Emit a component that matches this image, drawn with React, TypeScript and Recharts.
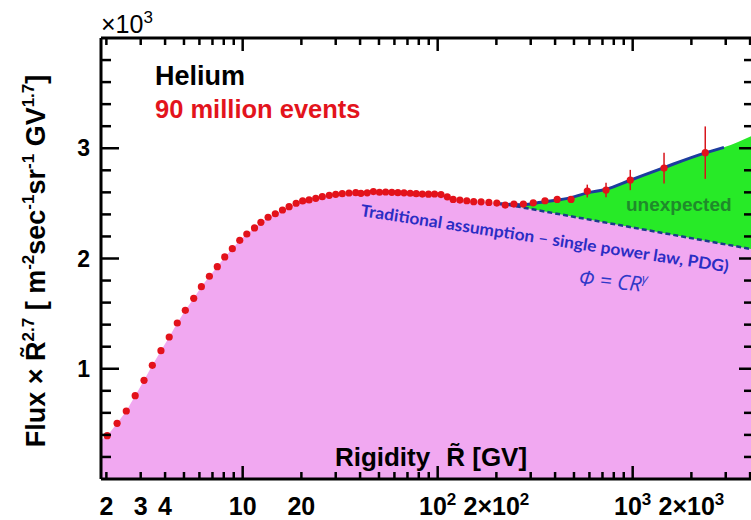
import React from 'react';
import { ComposedChart, XAxis, YAxis, Area, Line, Scatter, ErrorBar } from 'recharts';

// AMS helium flux x R^2.7
const rigidity = [
  2.02, 2.27, 2.53, 2.81, 3.12, 3.44, 3.81, 4.2, 4.62, 5.08, 5.61, 6.14, 6.75, 7.41, 8.09, 8.85, 9.66,
  10.5, 11.5, 12.4, 13.5, 14.7, 16.0, 17.3, 18.8, 20.3, 21.9, 23.7, 25.6, 27.8, 30.0, 32.4, 35.1, 38.0,
  40.4, 43.5, 46.8, 50.3, 54.1, 58.2, 62.5, 67.2, 72.3, 77.6, 83.4, 89.7, 96.4,
  104, 112, 120, 130, 141, 153, 167, 183, 201, 222, 246, 275, 309, 355, 410, 483, 585, 730, 972, 1448, 2356,
];
const fluxR27 = [
  393, 505, 617, 756, 895, 1031, 1164, 1288, 1415, 1530, 1639, 1744, 1839, 1926, 2014, 2089, 2165,
  2222, 2277, 2328, 2374, 2406, 2440, 2470, 2501, 2522, 2531, 2546, 2561, 2573, 2582, 2588, 2594, 2597,
  2591, 2596, 2607, 2601, 2603, 2600, 2597, 2596, 2592, 2588, 2584, 2583, 2585,
  2580, 2559, 2536, 2530, 2524, 2515, 2514, 2509, 2503, 2485, 2494, 2494, 2505, 2524, 2536, 2536, 2612, 2621, 2712, 2820, 2960,
];
const fluxErr = [
  0, 0, 0, 0, 0, 0, 0, 0, 0, 0, 0, 0, 0, 0, 0, 0, 0,
  0, 0, 0, 0, 0, 0, 0, 0, 0, 0, 0, 0, 0, 0, 0, 0, 0,
  0, 0, 0, 0, 0, 0, 0, 0, 0, 0, 0, 0, 0,
  0, 0, 0, 0, 0, 0, 0, 0, 0, 0, 10, 12, 15, 18, 22, 28, 58, 65, 92, 140, 238,
];

// fitted curve (blue) and single power law (dashed)
const fitRigidity = [209, 264, 340, 410, 483, 585, 730, 972, 1448, 2356, 2938];
const fitFlux = [2495, 2488, 2510, 2530, 2552, 2595, 2628, 2710, 2825, 2958, 3008];
const powerLawRigidity = [209, 4045];
const powerLawFlux = [2500, 2086];

// edges of the coloured regions at the frame
const rigidityMin = 1.877;
const rigidityMax = 4140;
const pinkStartFlux = 354;
const greenEndFlux = 3110;

const xTicks = [2, 3, 4, 5, 6, 7, 8, 9, 10, 20, 30, 40, 50, 60, 70, 80, 90, 100, 200, 300, 400, 500, 600, 700, 800, 900, 1000, 2000, 3000, 4000];
const xMajor = [10, 100, 1000];
const xLabels: Record<number, [string, string]> = {
  2: ['2', ''], 3: ['3', ''], 4: ['4', ''], 10: ['10', ''], 20: ['20', ''],
  100: ['10', '2'], 200: ['2\u00d710', '2'], 1000: ['10', '3'], 2000: ['2\u00d710', '3'],
};
const yTicks = [200, 400, 600, 800, 1000, 1200, 1400, 1600, 1800, 2000, 2200, 2400, 2600, 2800, 3000, 3200, 3400, 3600, 3800];
const yLabels: Record<number, string> = { 1000: '1', 2000: '2', 3000: '3' };

const dots = rigidity.map((x, i) => ({ x, y: fluxR27[i], err: fluxErr[i] }));
const fit = fitRigidity.map((x, i) => ({ x, y: fitFlux[i] }));
const powerLaw = powerLawRigidity.map((x, i) => ({ x, y: powerLawFlux[i] }));
const pink = [
  { x: rigidityMin, y: pinkStartFlux },
  ...dots.filter((d) => d.x < powerLawRigidity[0]).map((d) => ({ x: d.x, y: d.y })),
  ...powerLaw,
];
const green = [...fit, { x: powerLawRigidity[1], y: greenEndFlux }];

const font = '"Liberation Sans", Arial, Helvetica, sans-serif';

function BottomTick({ x, y, payload }: any) {
  const v = payload.value;
  const lab = xLabels[v];
  return (
    <g>
      <line x1={x} x2={x} y1={y} y2={y - (xMajor.includes(v) ? 13 : 7)} stroke="#000" strokeWidth={2.5} />
      {lab && (
        <text x={x} y={y + 36} textAnchor="middle" fontFamily={font} fontWeight="bold" fontSize={25} fill="#000">
          {lab[0]}
          {lab[1] && <tspan dy={-10} fontSize={17}>{lab[1]}</tspan>}
        </text>
      )}
    </g>
  );
}

function TopTick({ x, y, payload }: any) {
  const v = payload.value;
  return <line x1={x} x2={x} y1={y} y2={y + (xMajor.includes(v) ? 13 : 7)} stroke="#000" strokeWidth={2.5} />;
}

function LeftTick({ x, y, payload }: any) {
  const lab = yLabels[payload.value];
  return (
    <g>
      <line x1={x} x2={x + (lab ? 18 : 10)} y1={y} y2={y} stroke="#000" strokeWidth={2.5} />
      {lab && (
        <text x={x - 11} y={y + 8} textAnchor="end" fontFamily={font} fontWeight="bold" fontSize={23} fill="#000">
          {lab}
        </text>
      )}
    </g>
  );
}

function RightTick({ x, y, payload }: any) {
  const major = !!yLabels[payload.value];
  return <line x1={x} x2={x - (major ? 14 : 9)} y1={y} y2={y} stroke="#000" strokeWidth={2.5} />;
}

const RedDot = (p: any) => <circle cx={p.cx} cy={p.cy} r={3.6} fill="#e3121b" />;

export default function App() {
  const ax = { xAxisId: 'b', yAxisId: 'l' };
  return (
    <div style={{ position: 'absolute', left: 0, top: 0, width: 751, height: 520, overflow: 'hidden', background: '#fff' }}>
      <ComposedChart width={760} height={520} margin={{ top: 0, right: 0, bottom: 0, left: 0 }}>
        <XAxis
          xAxisId="b" dataKey="x" type="number" scale="log" domain={[rigidityMin, rigidityMax]} allowDataOverflow
          ticks={xTicks} interval={0} tickSize={0} tickMargin={0} tick={BottomTick} height={41}
          axisLine={{ stroke: '#000', strokeWidth: 3 }}
        />
        <XAxis
          xAxisId="t" orientation="top" dataKey="x" type="number" scale="log" domain={[rigidityMin, rigidityMax]} allowDataOverflow
          ticks={xTicks} interval={0} tickSize={0} tickMargin={0} tick={TopTick} height={38}
          axisLine={{ stroke: '#000', strokeWidth: 3 }}
        />
        <YAxis
          yAxisId="l" dataKey="y" type="number" domain={[0, 4000]} allowDataOverflow ticks={yTicks} interval={0}
          tickSize={0} tickMargin={0} tick={LeftTick} width={101} axisLine={{ stroke: '#000', strokeWidth: 3 }}
        />
        <YAxis
          yAxisId="r" orientation="right" dataKey="y" type="number" domain={[0, 4000]} allowDataOverflow ticks={yTicks} interval={0}
          tickSize={0} tickMargin={0} tick={RightTick} width={7} axisLine={false}
        />
        <Area {...ax} data={green} dataKey="y" type="monotone" stroke="none" fill="#27ea27" fillOpacity={1} isAnimationActive={false} />
        <Area {...ax} data={pink} dataKey="y" type="linear" stroke="none" fill="#f1a8f1" fillOpacity={1} isAnimationActive={false} />
        <Line {...ax} data={powerLaw} dataKey="y" type="linear" stroke="#1b3a8c" strokeWidth={2.5} strokeDasharray="5 3" dot={false} isAnimationActive={false} />
        <Line {...ax} data={fit} dataKey="y" type="monotone" stroke="#1c3c9e" strokeWidth={3} dot={false} isAnimationActive={false} />
        <Scatter {...ax} data={dots} dataKey="y" shape={RedDot} isAnimationActive={false}>
          <ErrorBar dataKey="err" direction="y" width={0} stroke="#d8141c" strokeWidth={1.5} />
        </Scatter>
      </ComposedChart>
      <svg width={760} height={520} style={{ position: 'absolute', left: 0, top: 0, pointerEvents: 'none' }}>
        <text x={101} y={33} fontFamily={font} fontSize={25} fill="#000">
          {'\u00d710'}
          <tspan dy={-10} fontSize={17}>3</tspan>
        </text>
        <text transform="translate(45,261) rotate(-90)" textAnchor="middle" fontFamily={font} fontWeight="bold" fontSize={27} fill="#000">
          {'Flux \u00d7 R\u0303'}
          <tspan dy={-11} fontSize={17}>2.7</tspan>
          <tspan dy={11}>{' [ m'}</tspan>
          <tspan dy={-11} fontSize={17}>-2</tspan>
          <tspan dy={11}>sec</tspan>
          <tspan dy={-11} fontSize={17}>-1</tspan>
          <tspan dy={11}>sr</tspan>
          <tspan dy={-11} fontSize={17}>-1</tspan>
          <tspan dy={11}>{' GV'}</tspan>
          <tspan dy={-11} fontSize={17}>1.7</tspan>
          <tspan dy={11}>]</tspan>
        </text>
        <text x={155} y={85} fontFamily={font} fontWeight="bold" fontSize={27} fill="#000">Helium</text>
        <text x={155} y={118} fontFamily={font} fontWeight="bold" fontSize={25.5} fill="#e3141c">90 million events</text>
        <text x={431} y={466} textAnchor="middle" fontFamily={font} fontWeight="bold" fontSize={26} fill="#000">
          Rigidity
          <tspan dx={16}>{'R\u0303 [GV]'}</tspan>
        </text>
        <text x={626} y={211} fontFamily={font} fontWeight="bold" fontSize={19} fill="#1f8a2b">unexpected</text>
        <text
          transform="translate(360,216) rotate(8.7)" fontFamily="Lato, sans-serif" fontWeight="bold" fontSize={16.5}
          fill="#2b2dc4" textLength={372} lengthAdjust="spacingAndGlyphs"
        >
          {'Traditional assumption \u2013 single power law, PDG)'}
        </text>
        <text transform="translate(578,285) rotate(6)" fontFamily='"Open Sans", sans-serif' fontStyle="italic" fontSize={21} fill="#2f38c8">
          {'\u03a6 = CR'}
          <tspan dy={-9} fontSize={13}>{'\u03b3'}</tspan>
        </text>
      </svg>
    </div>
  );
}
